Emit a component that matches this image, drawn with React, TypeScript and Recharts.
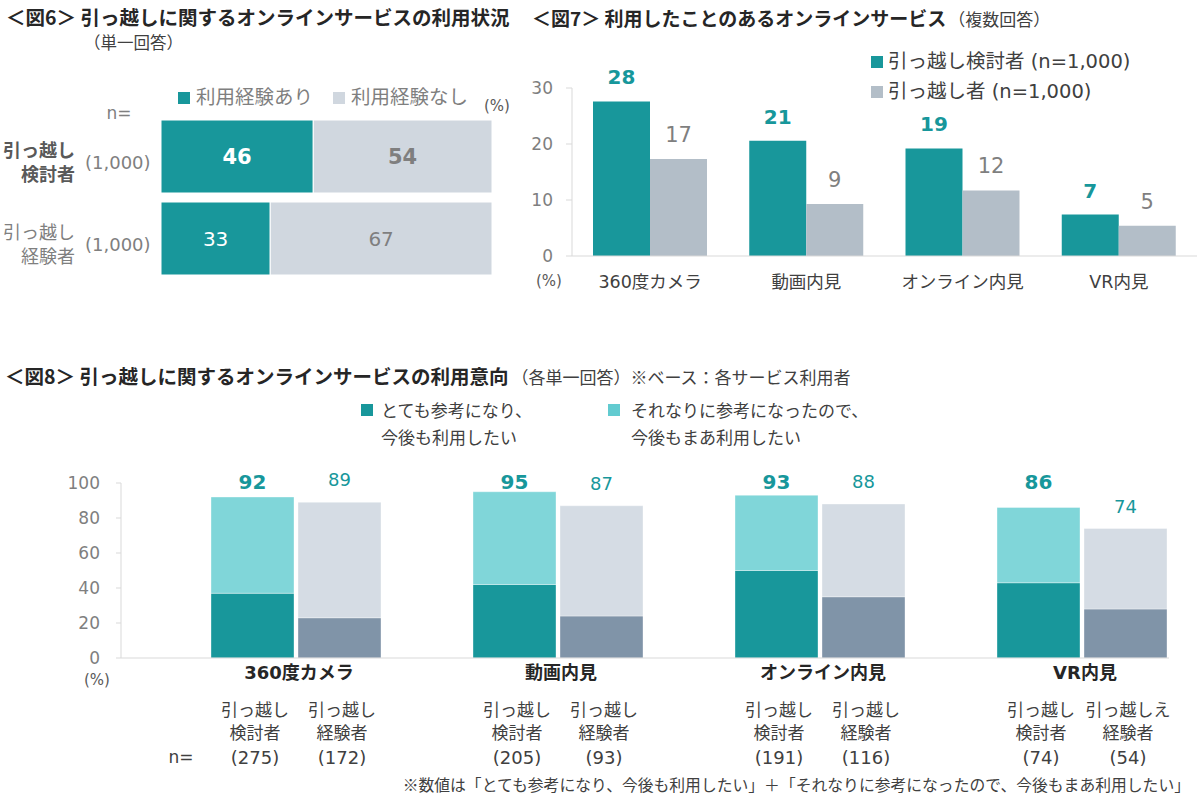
import React from 'react';
import { BarChart, Bar, XAxis, YAxis, LabelList } from 'recharts';

// ---------- colours & fonts ----------
const TEAL = '#18979B';
const TEAL_TXT = '#17979B';
const LIGHT_TEAL = '#80D6D9';
const LIGHT_TEAL_KEY = '#62CBD0';
const GRAY6 = '#D0D7DF';
const GRAY7 = '#B3BEC8';
const SLATE = '#8094A8';
const GRAY8 = '#D5DCE4';
const AXIS = '#D9D9D9';
const JP = "'Noto Sans CJK JP', sans-serif";
const NUM = "'DejaVu Sans', 'Noto Sans CJK JP', sans-serif";

// ---------- Fig 6 data ----------
const fig6Groups = ['引っ越し検討者', '引っ越し経験者'];
const fig6Line1 = ['引っ越し', '引っ越し'];
const fig6Line2 = ['検討者', '経験者'];
const fig6N = ['(1,000)', '(1,000)'];
const fig6Used = [46, 33];
const fig6NotUsed = [54, 67];
const fig6Legend = ['利用経験あり', '利用経験なし'];

// ---------- Fig 7 data ----------
const fig7Categories = ['360度カメラ', '動画内見', 'オンライン内見', 'VR内見'];
const fig7Considering = [27.6, 20.6, 19.2, 7.4];
const fig7Movers = [17.3, 9.3, 11.7, 5.4];
const fig7Legend = ['引っ越し検討者 (n=1,000)', '引っ越し者 (n=1,000)'];
const fig7Ticks = [0, 10, 20, 30];

// ---------- Fig 8 data ----------
const fig8Categories = ['360度カメラ', '動画内見', 'オンライン内見', 'VR内見'];
const fig8ConsStrong = [37, 42, 50, 43];
const fig8ConsMild = [55, 53, 43, 43];
const fig8ConsTotal = [92, 95, 93, 86];
const fig8ExpStrong = [23, 24, 35, 28];
const fig8ExpMild = [66, 63, 53, 46];
const fig8ExpTotal = [89, 87, 88, 74];
const fig8ConsLine1 = ['引っ越し', '引っ越し', '引っ越し', '引っ越し'];
const fig8ConsLine2 = ['検討者', '検討者', '検討者', '検討者'];
const fig8ExpLine1 = ['引っ越し', '引っ越し', '引っ越し', '引っ越しえ'];
const fig8ExpLine2 = ['経験者', '経験者', '経験者', '経験者'];
const fig8ConsN = [275, 205, 191, 74];
const fig8ExpN = [172, 93, 116, 54];
const fig8Ticks = [0, 20, 40, 60, 80, 100];
const fig8Legend = [
  ['とても参考になり、', '今後も利用したい'],
  ['それなりに参考になったので、', '今後もまあ利用したい'],
];
const FIG8_LABEL_LEVEL = 96.8;

// ---------- helpers ----------
type TxtProps = {
  x: number; y: number; size: number; weight?: number; color?: string;
  anchor?: 'start' | 'middle' | 'end'; font?: string; children?: React.ReactNode;
};
function Txt({ x, y, size, weight = 400, color = '#404040', anchor = 'start', font = JP, children }: TxtProps) {
  const tx = anchor === 'middle' ? '-50%' : anchor === 'end' ? '-100%' : '0';
  return (
    <div
      style={{
        position: 'absolute', left: x, top: y - size * 0.6, fontSize: size,
        lineHeight: `${size * 1.2}px`, fontWeight: weight, color, fontFamily: font,
        whiteSpace: 'nowrap', transform: `translateX(${tx})`,
      }}
    >
      {children}
    </div>
  );
}
function Sq({ x, y, size, color }: { x: number; y: number; size: number; color: string }) {
  return <div style={{ position: 'absolute', left: x, top: y - size / 2, width: size, height: size, background: color }} />;
}
function vbOf(p: any) {
  if (p && p.viewBox && p.viewBox.width !== undefined) return p.viewBox;
  return p;
}

// ---------- Fig 6 pieces ----------
const Fig6Tick = (props: any) => {
  const { y, payload } = props;
  const i = fig6Groups.indexOf(payload.value);
  const bold = i === 0;
  const col = bold ? '#595959' : '#7F7F7F';
  return (
    <g>
      <text textAnchor="end" fontFamily={JP} fontSize={18} fontWeight={bold ? 700 : 400} fill={col}>
        <tspan x={75} y={y + 1}>{fig6Line1[i]}</tspan>
        <tspan x={75} y={y + 25}>{fig6Line2[i]}</tspan>
      </text>
      <text x={85} y={y + 6} textAnchor="start" dominantBaseline="central" fontFamily={NUM} fontSize={18} fill="#7F7F7F">{fig6N[i]}</text>
    </g>
  );
};
const fig6UsedLabel = (p: any) => {
  const vb = vbOf(p);
  const i = fig6Used.indexOf(Number(p.value));
  return (
    <text x={vb.x + vb.width / 2} y={vb.y + vb.height / 2} textAnchor="middle" dominantBaseline="central"
      fontFamily={NUM} fontSize={i === 0 ? 21 : 20} fontWeight={i === 0 ? 700 : 400} fill="#FFFFFF">{p.value}</text>
  );
};
const fig6NotLabel = (p: any) => {
  const vb = vbOf(p);
  const i = fig6NotUsed.indexOf(Number(p.value));
  return (
    <text x={vb.x + vb.width / 2} y={vb.y + vb.height / 2} textAnchor="middle" dominantBaseline="central"
      fontFamily={NUM} fontSize={i === 0 ? 21 : 20} fontWeight={i === 0 ? 700 : 400} fill="#7F7F7F">{p.value}</text>
  );
};

// ---------- Fig 7 pieces ----------
const Fig7Tick = (props: any) => {
  const { x, y, payload } = props;
  return (
    <text x={x} y={y + 26} textAnchor="middle" dominantBaseline="central" fontFamily={NUM} fontSize={17.5} fill="#404040">{payload.value}</text>
  );
};
const topLabel = (color: string, bold: boolean) => (p: any) => {
  const vb = vbOf(p);
  return (
    <text x={vb.x + vb.width / 2} y={vb.y - 17} textAnchor="middle" fontFamily={NUM} fontSize={bold ? 20 : 21}
      fontWeight={bold ? 700 : 400} fill={color}>{Math.round(Number(p.value))}</text>
  );
};

// ---------- Fig 8 pieces ----------
const Fig8Tick = (props: any) => {
  const { x, y, payload } = props;
  const i = fig8Categories.indexOf(payload.value);
  const c1 = x + 3;
  const c2 = x + 90;
  const sub = { textAnchor: 'middle' as const, fontFamily: JP, fontSize: 17, fill: '#404040' };
  return (
    <g>
      <text x={x + 47} y={y + 14} textAnchor="middle" dominantBaseline="central" fontFamily={NUM} fontSize={18} fontWeight={700} fill="#262626">{payload.value}</text>
      <text {...sub}>
        <tspan x={c1} y={y + 58}>{fig8ConsLine1[i]}</tspan>
        <tspan x={c1} y={y + 81}>{fig8ConsLine2[i]}</tspan>
      </text>
      <text x={c1} y={y + 106} {...sub} fontFamily={NUM} fontSize={18}>({fig8ConsN[i]})</text>
      <text {...sub}>
        <tspan x={c2} y={y + 58}>{fig8ExpLine1[i]}</tspan>
        <tspan x={c2} y={y + 81}>{fig8ExpLine2[i]}</tspan>
      </text>
      <text x={c2} y={y + 106} {...sub} fontFamily={NUM} fontSize={18}>({fig8ExpN[i]})</text>
    </g>
  );
};
const fig8ConsLabel = (p: any) => {
  const vb = vbOf(p);
  const i = fig8ConsTotal.indexOf(Number(p.value));
  const pxPer = vb.height / fig8ConsMild[i];
  const yb = vb.y - (FIG8_LABEL_LEVEL - fig8ConsTotal[i]) * pxPer;
  return (
    <text x={vb.x + vb.width / 2} y={yb} textAnchor="middle" fontFamily={NUM} fontSize={20} fontWeight={700} fill={TEAL_TXT}>{p.value}</text>
  );
};
const fig8ExpLabel = (p: any) => {
  const vb = vbOf(p);
  return (
    <text x={vb.x + vb.width / 2} y={vb.y - 16} textAnchor="middle" fontFamily={NUM} fontSize={18} fill={TEAL_TXT}>{p.value}</text>
  );
};

export default function App() {
  const fig6Data = fig6Groups.map((g, i) => ({ group: g, used: fig6Used[i], notUsed: fig6NotUsed[i] }));
  const fig7Data = fig7Categories.map((c, i) => ({ cat: c, cons: fig7Considering[i], movers: fig7Movers[i] }));
  const fig8Data = fig8Categories.map((c, i) => ({
    cat: c, cs: fig8ConsStrong[i], cm: fig8ConsMild[i], ct: fig8ConsTotal[i],
    es: fig8ExpStrong[i], em: fig8ExpMild[i], et: fig8ExpTotal[i],
  }));

  return (
    <div style={{ position: 'absolute', left: 0, top: 0, width: 1200, height: 805, background: '#fff', overflow: 'hidden', fontFamily: JP }}>
      {/* ---------- Fig 6 chart ---------- */}
      <div style={{ position: 'absolute', left: 0, top: 80 }}>
        <BarChart layout="vertical" width={500} height={204} data={fig6Data}
          margin={{ top: 35, right: 8, bottom: 5, left: 0 }} barSize={73}>
          <XAxis type="number" domain={[0, 100]} hide />
          <YAxis type="category" dataKey="group" width={161} axisLine={false} tickLine={false} interval={0} tick={<Fig6Tick />} />
          <Bar dataKey="used" stackId="s" fill={TEAL} stroke="#FFFFFF" strokeWidth={1} isAnimationActive={false}>
            <LabelList dataKey="used" content={fig6UsedLabel} />
          </Bar>
          <Bar dataKey="notUsed" stackId="s" fill={GRAY6} stroke="#FFFFFF" strokeWidth={1} isAnimationActive={false}>
            <LabelList dataKey="notUsed" content={fig6NotLabel} />
          </Bar>
        </BarChart>
      </div>

      {/* ---------- Fig 7 chart ---------- */}
      <div style={{ position: 'absolute', left: 520, top: 40 }}>
        <BarChart width={680} height={256} data={fig7Data} margin={{ top: 48, right: 3, bottom: 0, left: 0 }} barSize={57} barGap={0}>
          <XAxis dataKey="cat" height={40} axisLine={{ stroke: AXIS }} tickLine={false} tickSize={0} tickMargin={0} interval={0} tick={<Fig7Tick />} />
          <YAxis domain={[0, 30]} ticks={fig7Ticks} width={52} axisLine={{ stroke: AXIS }} tickLine={{ stroke: AXIS }} tickSize={6} tickMargin={13}
            tick={{ fill: '#7F7F7F', fontSize: 17, fontFamily: NUM }} />
          <Bar dataKey="cons" fill={TEAL} isAnimationActive={false}>
            <LabelList dataKey="cons" content={topLabel(TEAL_TXT, true)} />
          </Bar>
          <Bar dataKey="movers" fill={GRAY7} isAnimationActive={false}>
            <LabelList dataKey="movers" content={topLabel('#7F7F7F', false)} />
          </Bar>
        </BarChart>
      </div>

      {/* ---------- Fig 8 chart ---------- */}
      <div style={{ position: 'absolute', left: 0, top: 440 }}>
        <BarChart width={1200} height={338} data={fig8Data} margin={{ top: 43, right: 31, bottom: 0, left: 0 }} barSize={83} barGap={4} barCategoryGap={0}>
          <XAxis dataKey="cat" height={120} axisLine={{ stroke: AXIS }} tickLine={false} tickSize={0} tickMargin={0} interval={0} tick={<Fig8Tick />} />
          <YAxis domain={[0, 100]} ticks={fig8Ticks} width={121} axisLine={{ stroke: AXIS }} tickLine={{ stroke: AXIS }} tickSize={5} tickMargin={16}
            tick={{ fill: '#7F7F7F', fontSize: 17, fontFamily: NUM }} />
          <Bar dataKey="spacer" stackId="a0" fill="none" isAnimationActive={false} />
          <Bar dataKey="cs" stackId="c" fill={TEAL} stroke="#FFFFFF" strokeOpacity={0.35} strokeWidth={1} isAnimationActive={false} />
          <Bar dataKey="cm" stackId="c" fill={LIGHT_TEAL} stroke="#FFFFFF" strokeOpacity={0.35} strokeWidth={1} isAnimationActive={false}>
            <LabelList dataKey="ct" content={fig8ConsLabel} />
          </Bar>
          <Bar dataKey="es" stackId="e" fill={SLATE} stroke="#FFFFFF" strokeOpacity={0.35} strokeWidth={1} isAnimationActive={false} />
          <Bar dataKey="em" stackId="e" fill={GRAY8} stroke="#FFFFFF" strokeOpacity={0.35} strokeWidth={1} isAnimationActive={false}>
            <LabelList dataKey="et" content={fig8ExpLabel} />
          </Bar>
        </BarChart>
      </div>

      {/* ---------- Fig 6 texts ---------- */}
      <Txt x={6} y={17} size={19.5} weight={700} color="#262626">＜図6＞ 引っ越しに関するオンラインサービスの利用状況</Txt>
      <Txt x={84} y={43} size={16.5} color="#404040">（単一回答）</Txt>
      <Sq x={178} y={98} size={12} color={TEAL} />
      <Txt x={196} y={96} size={19.5} color="#7F7F7F">{fig6Legend[0]}</Txt>
      <Sq x={333} y={98} size={12} color={GRAY6} />
      <Txt x={351} y={96} size={19.5} color="#7F7F7F">{fig6Legend[1]}</Txt>
      <Txt x={497} y={106} size={15} anchor="middle" font={NUM} color="#595959">(%)</Txt>
      <Txt x={119} y={113} size={17} anchor="middle" font={NUM} color="#7F7F7F">n=</Txt>

      {/* ---------- Fig 7 texts ---------- */}
      <div style={{ position: 'absolute', left: 532, top: 18 - 11, whiteSpace: 'nowrap', fontFamily: JP, lineHeight: '22px', color: '#262626' }}>
        <span style={{ fontSize: 19, fontWeight: 700 }}>＜図7＞ 利用したことのあるオンラインサービス</span>
        <span style={{ fontSize: 17, color: '#404040', marginLeft: 2 }}>（複数回答）</span>
      </div>
      <Sq x={871} y={62} size={12} color={TEAL} />
      <Txt x={888} y={62} size={19.5} font={NUM} color="#404040">{fig7Legend[0]}</Txt>
      <Sq x={871} y={92} size={12} color={GRAY7} />
      <Txt x={888} y={92} size={19.5} font={NUM} color="#404040">{fig7Legend[1]}</Txt>
      <Txt x={549} y={281} size={15} anchor="middle" font={NUM} color="#595959">(%)</Txt>

      {/* ---------- Fig 8 texts ---------- */}
      <div style={{ position: 'absolute', left: 5, top: 376 - 11, whiteSpace: 'nowrap', fontFamily: JP, lineHeight: '22px', color: '#262626' }}>
        <span style={{ fontSize: 19.5, fontWeight: 700 }}>＜図8＞ 引っ越しに関するオンラインサービスの利用意向</span>
        <span style={{ fontSize: 17, color: '#404040', marginLeft: 3 }}>（各単一回答）※ベース：各サービス利用者</span>
      </div>
      <Sq x={361} y={410} size={12} color={TEAL} />
      <Txt x={381} y={410} size={17}>{fig8Legend[0][0]}</Txt>
      <Txt x={381} y={437} size={17}>{fig8Legend[0][1]}</Txt>
      <Sq x={608} y={410} size={12} color={LIGHT_TEAL_KEY} />
      <Txt x={631} y={410} size={17}>{fig8Legend[1][0]}</Txt>
      <Txt x={631} y={437} size={17}>{fig8Legend[1][1]}</Txt>
      <Txt x={97} y={680} size={15} anchor="middle" font={NUM} color="#595959">(%)</Txt>
      <Txt x={181} y={757} size={17} anchor="middle" font={NUM} color="#404040">n=</Txt>
      <Txt x={1190} y={785} size={15.8} anchor="end" color="#404040">※数値は「とても参考になり、今後も利用したい」＋「それなりに参考になったので、今後もまあ利用したい」</Txt>
    </div>
  );
}
